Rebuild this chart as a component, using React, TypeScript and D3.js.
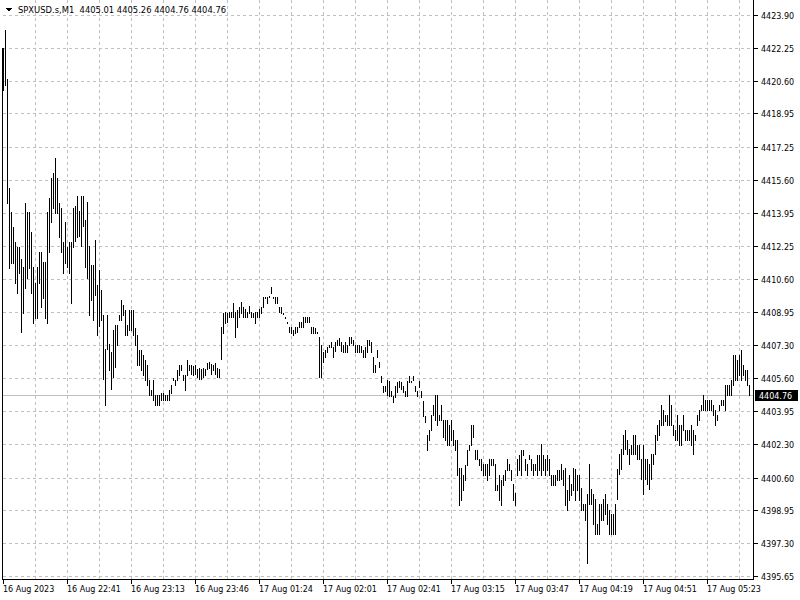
import React from 'react';
import * as d3 from 'd3';

const symbolTitle = 'SPXUSD.s,M1';
const lastOHLC = [4405.01, 4405.26, 4404.76, 4404.76];
const lastPrice = 4404.76;

const priceTicks = [
  4423.90, 4422.25, 4420.60, 4418.95, 4417.25, 4415.60, 4413.95, 4412.25, 4410.60,
  4408.95, 4407.30, 4405.60, 4403.95, 4402.30, 4400.60, 4398.95, 4397.30, 4395.65,
];

const timeLabels = [
  '16 Aug 2023', '16 Aug 22:41', '16 Aug 23:13', '16 Aug 23:46', '17 Aug 01:24', '17 Aug 02:01',
  '17 Aug 02:41', '17 Aug 03:15', '17 Aug 03:47', '17 Aug 04:19', '17 Aug 04:51', '17 Aug 05:23',
];

const highs = [
  4422.24, 4423.15, 4420.68, 4415.19, 4413.98, 4413.23, 4412.47, 4412.22, 4412.22, 4411.62,
  4411.21, 4414.44, 4413.98, 4413.98, 4412.98, 4411.21, 4410.41, 4411.21, 4411.97, 4411.97,
  4411.47, 4411.47, 4413.98, 4414.69, 4415.69, 4415.95, 4416.70, 4415.69, 4414.44, 4414.19,
  4412.47, 4413.48, 4412.22, 4412.47, 4412.47, 4414.19, 4414.29, 4414.79, 4414.03, 4414.79,
  4414.79, 4413.58, 4414.49, 4412.27, 4411.31, 4411.31, 4412.57, 4410.31, 4411.06, 4410.06,
  4408.80, 4407.08, 4408.80, 4407.34, 4406.93, 4408.04, 4408.29, 4408.29, 4408.80, 4409.55,
  4409.30, 4409.05, 4408.29, 4409.05, 4409.05, 4409.05, 4408.14, 4407.79, 4407.03, 4407.03,
  4406.78, 4406.53, 4406.28, 4405.52, 4405.02, 4405.52, 4404.77, 4404.77, 4404.77, 4404.87,
  4404.87, 4404.77, 4404.77, 4405.02, 4405.27, 4405.62, 4405.52, 4406.03, 4406.28, 4406.28,
  4405.77, 4405.77, 4406.53, 4406.28, 4406.28, 4406.23, 4406.28, 4406.08, 4406.13, 4406.08,
  4406.13, 4406.08, 4406.38, 4406.43, 4406.33, 4406.28, 4406.38, 4406.13, 4406.08, 4408.19,
  4408.90, 4408.95, 4408.90, 4408.95, 4408.95, 4409.40, 4408.95, 4409.05, 4409.20, 4409.45,
  4409.20, 4409.10, 4408.95, 4409.25, 4408.95, 4408.90, 4408.95, 4408.95, 4409.10, 4409.20,
  4409.70, 4409.70, 4409.70, 4409.75, 4410.21, 4409.70, 4409.70, 4409.70, 4409.20, 4409.20,
  4408.90, 4408.70, 4408.44, 4408.19, 4408.19, 4408.04, 4408.19, 4408.19, 4408.44, 4408.44,
  4408.70, 4408.70, 4408.70, 4408.70, 4408.19, 4408.19, 4408.14, 4407.94, 4407.69, 4407.29,
  4406.93, 4407.03, 4407.19, 4407.29, 4407.44, 4407.19, 4407.44, 4407.54, 4407.64, 4407.44,
  4407.29, 4407.44, 4407.29, 4407.69, 4407.69, 4407.54, 4407.29, 4407.29, 4407.29, 4407.24,
  4407.03, 4407.19, 4407.54, 4407.54, 4407.44, 4406.68, 4406.28, 4407.03, 4406.43, 4405.72,
  4405.22, 4405.22, 4405.52, 4405.47, 4404.97, 4404.72, 4405.22, 4405.42, 4405.47, 4405.42,
  4405.22, 4404.97, 4405.47, 4405.72, 4405.47, 4405.72, 4405.22, 4404.97, 4405.47, 4404.97,
  4404.47, 4403.71, 4402.75, 4403.01, 4403.76, 4404.27, 4404.77, 4404.77, 4403.76, 4404.27,
  4403.51, 4403.51, 4403.51, 4403.26, 4403.51, 4403.01, 4402.50, 4402.50, 4401.09, 4401.09,
  4400.74, 4401.24, 4402.00, 4402.25, 4403.26, 4403.26, 4402.00, 4402.00, 4401.55, 4401.55,
  4401.30, 4401.30, 4401.30, 4401.55, 4401.55, 4401.55, 4401.30, 4400.24, 4400.74, 4400.49,
  4400.74, 4400.99, 4401.55, 4401.30, 4400.99, 4400.29, 4399.84, 4401.55, 4401.75, 4402.00,
  4402.00, 4401.55, 4401.30, 4401.75, 4401.55, 4401.30, 4401.30, 4401.75, 4401.75, 4402.30,
  4401.75, 4401.55, 4401.75, 4401.55, 4400.74, 4400.74, 4400.74, 4400.99, 4400.99, 4401.30,
  4400.99, 4401.09, 4399.99, 4400.74, 4400.29, 4401.09, 4401.04, 4400.74, 4400.74, 4400.09,
  4399.28, 4399.28, 4399.79, 4401.30, 4400.04, 4399.79, 4399.53, 4398.27, 4399.28, 4399.28,
  4399.53, 4399.79, 4399.28, 4398.98, 4398.78, 4398.78, 4399.28, 4401.04, 4401.80, 4402.05,
  4402.75, 4403.01, 4402.50, 4402.05, 4402.25, 4402.75, 4402.75, 4402.25, 4402.25, 4401.55,
  4402.25, 4401.55, 4401.55, 4401.30, 4401.80, 4401.80, 4402.75, 4403.26, 4403.51, 4404.27,
  4404.01, 4403.76, 4403.76, 4404.77, 4404.27, 4403.26, 4403.01, 4403.76, 4403.26, 4403.26,
  4403.76, 4403.01, 4403.01, 4403.01, 4403.26, 4403.01, 4402.75, 4403.76, 4404.01, 4404.27,
  4404.77, 4404.52, 4404.52, 4404.52, 4404.52, 4404.27, 4404.01, 4403.76, 4404.27, 4404.52,
  4404.52, 4405.27, 4405.27, 4405.27, 4405.52, 4406.78, 4406.78, 4406.53, 4406.78, 4407.03,
  4406.28, 4406.03, 4406.03, 4405.26,
];

const lows = [
  4420.13, 4420.38, 4414.44, 4411.16, 4411.42, 4411.42, 4410.41, 4409.90, 4410.91, 4407.94,
  4408.90, 4410.16, 4410.66, 4411.16, 4409.90, 4408.39, 4408.65, 4408.65, 4410.41, 4409.20,
  4409.65, 4408.65, 4408.39, 4411.97, 4413.48, 4414.19, 4413.93, 4413.93, 4412.72, 4411.97,
  4410.91, 4411.42, 4411.21, 4410.91, 4409.40, 4412.22, 4412.52, 4412.72, 4412.77, 4412.27,
  4413.28, 4411.21, 4410.66, 4408.80, 4409.55, 4408.55, 4409.80, 4407.79, 4408.24, 4408.55,
  4405.57, 4404.27, 4407.08, 4406.03, 4405.07, 4405.67, 4406.18, 4407.29, 4408.55, 4408.55,
  4408.80, 4407.79, 4407.79, 4408.04, 4408.04, 4407.79, 4407.29, 4406.28, 4406.28, 4406.03,
  4405.77, 4405.52, 4405.27, 4404.77, 4404.77, 4404.52, 4404.27, 4404.27, 4404.27, 4404.52,
  4404.52, 4404.52, 4404.52, 4404.52, 4404.87, 4405.52, 4405.27, 4405.52, 4405.77, 4406.03,
  4405.52, 4405.02, 4405.77, 4406.03, 4405.82, 4405.77, 4405.82, 4405.67, 4405.57, 4405.57,
  4405.67, 4405.77, 4406.08, 4406.13, 4405.82, 4406.03, 4405.82, 4405.67, 4405.67, 4406.58,
  4407.89, 4408.39, 4408.44, 4408.70, 4408.70, 4408.70, 4407.69, 4408.19, 4408.70, 4408.90,
  4408.70, 4408.70, 4408.70, 4408.90, 4408.70, 4408.70, 4408.39, 4408.70, 4408.70, 4408.90,
  4409.20, 4409.65, 4409.40, 4409.70, 4409.90, 4409.65, 4409.40, 4409.40, 4408.95, 4408.90,
  4408.85, 4408.65, 4408.39, 4407.94, 4407.89, 4407.79, 4407.89, 4407.94, 4408.19, 4408.19,
  4408.19, 4408.44, 4408.44, 4408.44, 4407.89, 4407.89, 4407.89, 4407.89, 4405.67, 4405.67,
  4406.43, 4406.68, 4406.93, 4407.19, 4407.19, 4406.68, 4406.98, 4407.29, 4407.29, 4406.98,
  4406.93, 4406.93, 4406.93, 4407.29, 4407.39, 4407.29, 4406.93, 4406.93, 4406.93, 4406.93,
  4406.68, 4406.68, 4406.93, 4407.29, 4406.93, 4405.93, 4405.93, 4406.68, 4406.18, 4405.42,
  4404.92, 4404.97, 4404.77, 4404.72, 4404.72, 4404.42, 4404.67, 4404.92, 4405.17, 4405.07,
  4404.92, 4404.72, 4404.72, 4405.42, 4405.42, 4405.52, 4404.97, 4404.72, 4405.17, 4404.67,
  4403.71, 4403.41, 4402.00, 4402.50, 4403.01, 4403.76, 4403.51, 4403.26, 4403.51, 4403.51,
  4402.65, 4402.50, 4402.25, 4402.25, 4402.50, 4402.25, 4402.00, 4400.74, 4399.23, 4399.48,
  4399.99, 4400.49, 4401.24, 4402.00, 4402.25, 4402.65, 4401.55, 4401.55, 4401.24, 4400.99,
  4400.74, 4400.74, 4400.49, 4400.74, 4401.24, 4401.24, 4399.99, 4399.99, 4399.48, 4399.23,
  4400.24, 4400.49, 4400.99, 4400.99, 4400.49, 4399.48, 4399.23, 4400.74, 4400.99, 4400.74,
  4401.75, 4400.99, 4400.74, 4401.55, 4400.99, 4400.74, 4400.99, 4400.74, 4400.99, 4400.74,
  4400.99, 4400.74, 4400.99, 4400.74, 4400.24, 4400.24, 4400.24, 4400.49, 4400.49, 4400.54,
  4400.24, 4399.23, 4398.98, 4399.48, 4399.74, 4399.99, 4399.48, 4399.99, 4399.48, 4398.98,
  4398.98, 4398.47, 4396.31, 4399.28, 4399.28, 4398.27, 4397.77, 4397.77, 4397.77, 4398.47,
  4398.47, 4398.78, 4398.27, 4397.77, 4397.77, 4397.77, 4397.77, 4399.53, 4400.79, 4401.04,
  4401.80, 4402.05, 4401.80, 4401.30, 4401.80, 4401.80, 4401.80, 4401.55, 4401.55, 4400.54,
  4399.79, 4400.54, 4400.29, 4400.04, 4400.54, 4401.30, 4401.80, 4402.50, 4402.75, 4403.26,
  4403.26, 4403.46, 4403.26, 4403.26, 4403.26, 4402.75, 4402.50, 4402.50, 4402.25, 4402.25,
  4403.01, 4402.50, 4402.50, 4402.50, 4402.25, 4401.80, 4402.50, 4403.26, 4403.51, 4404.01,
  4404.01, 4404.01, 4404.01, 4404.01, 4404.01, 4403.76, 4403.26, 4403.51, 4404.01, 4404.27,
  4404.27, 4404.01, 4404.77, 4404.77, 4404.77, 4405.27, 4405.52, 4405.52, 4405.77, 4405.52,
  4405.77, 4405.52, 4405.27, 4404.76,
];

const FONT = '"DejaVu Sans", Tahoma, sans-serif';

export default function App() {
  const W = 800;
  const H = 600;
  const plotLeft = 2;
  const plotRight = 753;
  const plotBottom = 579;
  const n = highs.length;

  const x = d3.scaleLinear().domain([0, n - 1]).range([3, 749]);
  const y = d3.scaleLinear().domain([4395.65, 4423.9]).range([576, 15]);

  const gridColor = '#c0c0c0';
  const vGrid = d3.range(16, n, 16);
  const labelIdx = timeLabels.map((_, k) => k * 32);

  return (
    <svg
      width={W}
      height={H}
      viewBox={`0 0 ${W} ${H}`}
      style={{ position: 'fixed', left: 0, top: 0, background: '#fff' }}
      shapeRendering="crispEdges"
    >
      <rect x={0} y={0} width={W} height={H} fill="#fff" />
      {/* horizontal grid */}
      {priceTicks.map((t, i) => (
        <line
          key={'hg' + i}
          x1={plotLeft + 1}
          x2={plotRight}
          y1={Math.round(y(t)) + 0.5}
          y2={Math.round(y(t)) + 0.5}
          stroke={gridColor}
          strokeDasharray="3,3"
        />
      ))}
      {/* vertical grid */}
      {vGrid.map((i) => (
        <line
          key={'vg' + i}
          x1={Math.round(x(i)) + 0.5}
          x2={Math.round(x(i)) + 0.5}
          y1={0}
          y2={plotBottom}
          stroke={gridColor}
          strokeDasharray="3,3"
        />
      ))}
      {/* current price line */}
      <line
        x1={plotLeft + 1}
        x2={plotRight}
        y1={Math.round(y(lastPrice)) + 0.5}
        y2={Math.round(y(lastPrice)) + 0.5}
        stroke="#c0c0c0"
      />
      {/* bars */}
      {highs.map((h, i) => {
        const top = Math.round(y(h));
        const bot = Math.round(y(lows[i]));
        return (
          <rect
            key={'b' + i}
            x={Math.round(x(i))}
            y={top}
            width={1}
            height={Math.max(1, bot - top + 1)}
            fill="#000"
          />
        );
      })}
      {/* frame */}
      <line x1={plotRight + 0.5} x2={plotRight + 0.5} y1={0} y2={plotBottom + 1} stroke="#000" />
      <line x1={plotLeft} x2={plotRight + 1} y1={plotBottom + 0.5} y2={plotBottom + 0.5} stroke="#000" />
      <line x1={plotLeft + 0.5} x2={plotLeft + 0.5} y1={48} y2={plotBottom + 1} stroke="#000" />
      {/* price axis */}
      {priceTicks.map((t, i) => {
        const yy = Math.round(y(t));
        return (
          <g key={'pt' + i}>
            <line x1={plotRight + 1} x2={plotRight + 5} y1={yy + 0.5} y2={yy + 0.5} stroke="#000" />
            <text x={761} y={yy + 3.5} fontFamily={FONT} fontSize={8} fill="#000">
              {t.toFixed(2)}
            </text>
          </g>
        );
      })}
      {/* current price box */}
      <rect x={755} y={Math.round(y(lastPrice)) - 5} width={43} height={11} fill="#000" />
      <text x={759} y={Math.round(y(lastPrice)) + 3.5} fontFamily={FONT} fontSize={8} fill="#fff">
        {lastPrice.toFixed(2)}
      </text>
      {/* time axis */}
      {labelIdx.map((idx, k) => {
        const xx = Math.round(x(idx));
        return (
          <g key={'tl' + k}>
            <line x1={xx + 0.5} x2={xx + 0.5} y1={plotBottom} y2={plotBottom + 5} stroke="#000" />
            <text x={xx} y={592} fontFamily={FONT} fontSize={8} fill="#000">
              {timeLabels[k]}
            </text>
          </g>
        );
      })}
      {/* title */}
      <path d="M6,8 L12,8 L9,12 Z" fill="#000" />
      <text x={18} y={13} fontFamily={FONT} fontSize={8.4} fill="#000" xmlSpace="preserve" style={{ whiteSpace: 'pre' }}>
        {symbolTitle + '  ' + lastOHLC.map((v) => v.toFixed(2)).join(' ')}
      </text>
    </svg>
  );
}
